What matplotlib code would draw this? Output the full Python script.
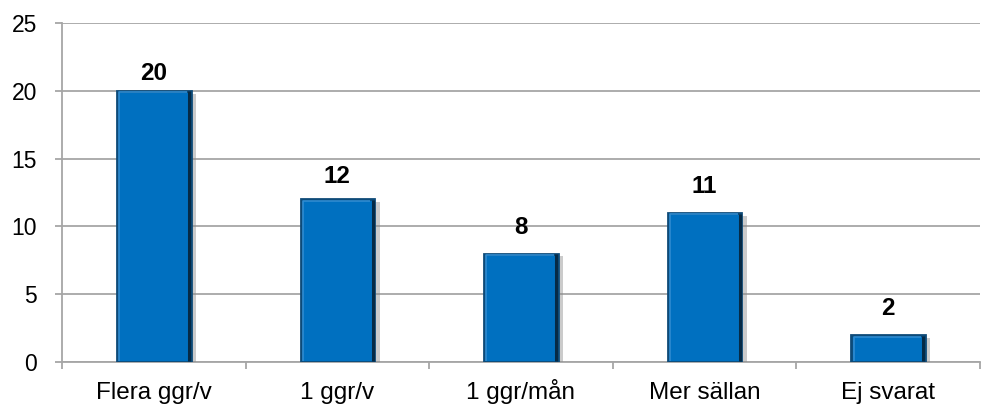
import matplotlib
matplotlib.use("Agg")
import matplotlib.pyplot as plt
import matplotlib.patheffects as pe
from matplotlib.transforms import offset_copy

categories = ["Flera ggr/v", "1 ggr/v", "1 ggr/mån", "Mer sällan", "Ej svarat"]
values = [20, 12, 8, 11, 2]
yticks = [0, 5, 10, 15, 20, 25]

plt.rcParams['font.family'] = ['Liberation Sans', 'DejaVu Sans']

fig = plt.figure(figsize=(9.81, 4.05), dpi=100)
ax = fig.add_axes([62/981, 1-362/405, 918/981, 339/405])

x = list(range(len(categories)))
bars = ax.bar(x, values, width=0.40, color="#0070C0", edgecolor="#0D4A78",
              linewidth=2.0, zorder=3,
              path_effects=[pe.SimplePatchShadow(offset=(4, -2), shadow_rgbFace="#8C8C8C", alpha=0.45),
                            pe.Normal()])
# bevel highlights / dark right edge
for b in bars:
    ax.plot([b.get_x() + 0.012, b.get_x() + 0.012, b.get_x() + b.get_width() - 0.02],
            [0.1, b.get_height() - 0.12, b.get_height() - 0.12],
            color="#2F8BD0", linewidth=1.2, zorder=4, solid_capstyle="butt")
    ax.plot([b.get_x() + b.get_width() - 0.008] * 2, [0.05, b.get_height() - 0.05],
            color="#062A45", linewidth=2.2, zorder=4, solid_capstyle="butt")

for xi, v in zip(x, values):
    gap = 6 if v >= 20 else (11 if v >= 12 else 15)
    tr = offset_copy(ax.transData, fig=fig, x=0, y=gap * 72 / 100, units="points")
    ax.text(xi, v, str(v), ha="center", va="bottom", fontsize=17.5, fontweight="bold",
            color="black", transform=tr)

ax.set_xlim(-0.5, len(categories) - 0.5)
ax.set_ylim(0, 25)
ax.set_yticks(yticks)
ax.set_yticklabels([str(t) for t in yticks], fontsize=16.5)
ax.yaxis.grid(True, color="#A6A6A6", linewidth=1.3, zorder=0)
ax.set_axisbelow(True)

ax.set_xticks(x)
ax.set_xticklabels(categories, fontsize=17.5)
ax.tick_params(axis="x", length=0, pad=26.5)
for lab in ax.get_xticklabels():
    lab.set_verticalalignment("baseline")
ax.set_xticks([i + 0.5 for i in range(-1, len(categories))], minor=True)
ax.tick_params(axis="x", which="minor", length=5, color="#A6A6A6", width=1.3)
ax.tick_params(axis="y", length=5, color="#A6A6A6", width=1.3, pad=13)

for s in ["top", "right"]:
    ax.spines[s].set_visible(False)
for s in ["left", "bottom"]:
    ax.spines[s].set_color("#A6A6A6")
    ax.spines[s].set_linewidth(1.3)

fig.savefig("out.png", dpi=100)
